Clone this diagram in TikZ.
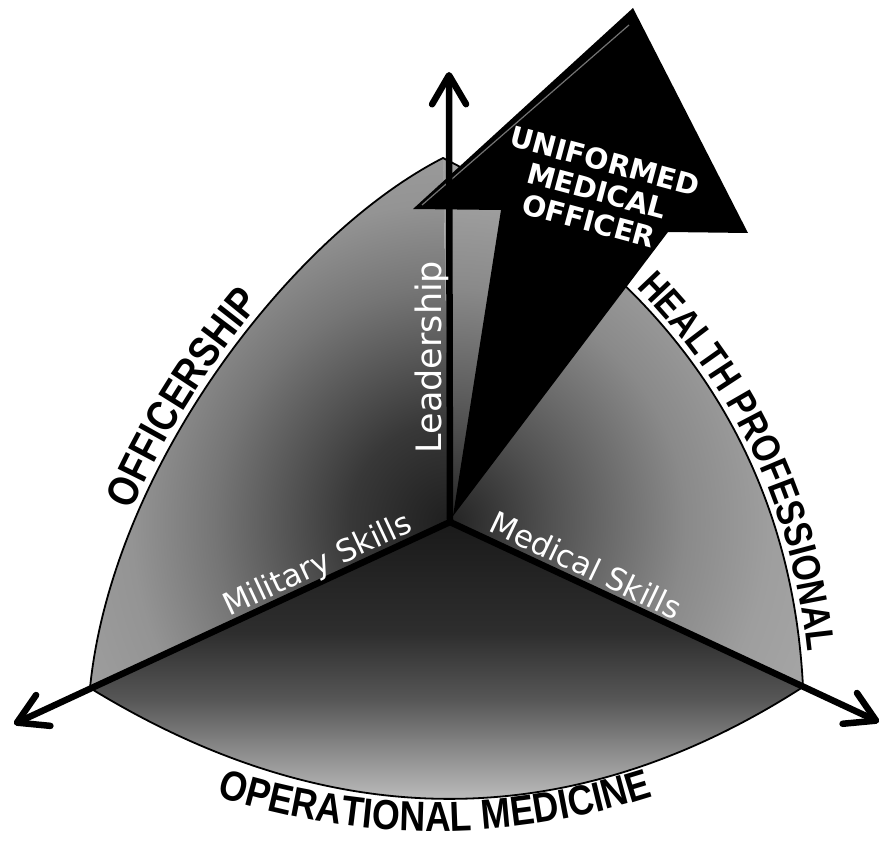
\documentclass[tikz,border=0pt]{standalone}
\usepackage{fontspec}
\usetikzlibrary{arrows.meta,decorations.text}
\newfontfamily\arcfont{Liberation Sans}[FakeStretch=0.85]
\newfontfamily\labfont{DejaVu Sans}

% shadings of the three sectors (25bp = edge of the shaded path)
\pgfdeclareradialshading{leftglow}{\pgfpoint{0bp}{0bp}}{color(0bp)=(black!88); color(6bp)=(black!78); color(14bp)=(black!54); color(19bp)=(black!42); color(25bp)=(black!37); color(50bp)=(black!37)}
\pgfdeclareradialshading{rightglow}{\pgfpoint{0bp}{0bp}}{color(0bp)=(black!86); color(6bp)=(black!68); color(14bp)=(black!46); color(19bp)=(black!38); color(25bp)=(black!34); color(50bp)=(black!34)}
\pgfdeclareverticalshading{floorshade}{100bp}{color(0bp)=(black!26); color(25bp)=(black!26); color(34bp)=(black!46); color(43bp)=(black!66); color(55bp)=(black!82); color(75bp)=(black!90); color(100bp)=(black!90)}

\tikzset{
  axisline/.style={line width=6.5pt, -{Straight Barb[round,length=29pt,width=34pt]}},
  rim/.style={line width=1.8pt, line join=round},
  whitelabel/.style={text=white, inner sep=0pt, font=\labfont\fontsize{31}{31}\selectfont},
  arrowtext/.style={text=white, inner sep=0pt, align=center, font=\labfont\bfseries\fontsize{28.5}{31}\selectfont},
  bevel/.style={black!55, line width=1.2pt}
}

\begin{document}
\begin{tikzpicture}[x=1pt,y=-1pt]
\useasboundingbox (0,0) rectangle (883,842);

% hub, corners of the curved triangle and axis tips
\coordinate (O) at (450,522);
\coordinate (T) at (443,158);
\coordinate (L) at (90,688);
\coordinate (R) at (803,687);
\coordinate (lt) at (449,72);
\coordinate (mt) at (14,724);
\coordinate (dt) at (879,722);

% left sector
\begin{scope}
  \clip (O) -- (L) .. controls (112,468) and (292,235) .. (T) -- cycle;
  \shade[shading=leftglow] (O) circle[radius=420pt];
\end{scope}
% right sector
\begin{scope}
  \clip (O) -- (T) .. controls (639,257) and (790,427) .. (R) -- cycle;
  \shade[shading=rightglow] (O) circle[radius=420pt];
\end{scope}
% bottom sector
\begin{scope}
  \clip (O) -- (L) .. controls (328,834) and (568,838) .. (R) -- cycle;
  \shade[shading=floorshade] (80,522) rectangle (815,800);
\end{scope}

% outline of the curved triangle
\draw[rim] (L) .. controls (112,468) and (292,235) .. (T)
           .. controls (639,257) and (790,427) .. (R)
           .. controls (568,838) and (328,834) .. cycle;

% skill axes
\draw[axisline] (O) -- (mt);
\draw[axisline] (O) -- (dt);

% the large arrow
\coordinate (sb) at (453,516);
\coordinate (sl) at (501,210);
\coordinate (hl) at (413,209);
\coordinate (ht) at (633,8);
\coordinate (hr) at (748,233);
\coordinate (sr) at (668,232);
\fill[black] (sb) -- (sl) -- (hl) -- (ht) -- (hr) -- (sr) -- cycle;
\coordinate (bv1) at (422,205);
\coordinate (bv2) at (629,25);
\draw[bevel] (bv1) -- (bv2);

% leadership axis
\draw[axisline] (O) -- (lt);

% axis labels
\node[whitelabel, rotate=90, font=\labfont\fontsize{35}{35}\selectfont] (lead) at (432,357) {Leadership};
\node[whitelabel, rotate=25] (mil) at (318,566) {Military Skills};
\node[whitelabel, rotate=-25.5] (med) at (586,565) {Medical Skills};
\node[arrowtext, rotate=-15] (umo) at (597,191) {UNIFORMED\\MEDICAL\\OFFICER};

% labels along the rim
\path[decorate, decoration={text along path,
  text={|\arcfont\bfseries\fontsize{43}{43}\selectfont|OFFICERSHIP},
  text align={left indent=185pt}}]
  (83,688) .. controls (105,467) and (288,229) .. (440,151);
\path[decorate, decoration={text along path,
  text={|\arcfont\bfseries\fontsize{39.5}{40}\selectfont|HEALTH PROFESSIONAL},
  text align={left indent=235pt}}]
  (446,151) .. controls (643,251) and (797,427) .. (810,687);
\path[decorate, decoration={text along path,
  text={|\arcfont\bfseries\fontsize{42}{42}\selectfont|OPERATIONAL MEDICINE},
  text align={center}}]
  (190,787) .. controls (353,846) and (517,846) .. (680,787);
\end{tikzpicture}
\end{document}
